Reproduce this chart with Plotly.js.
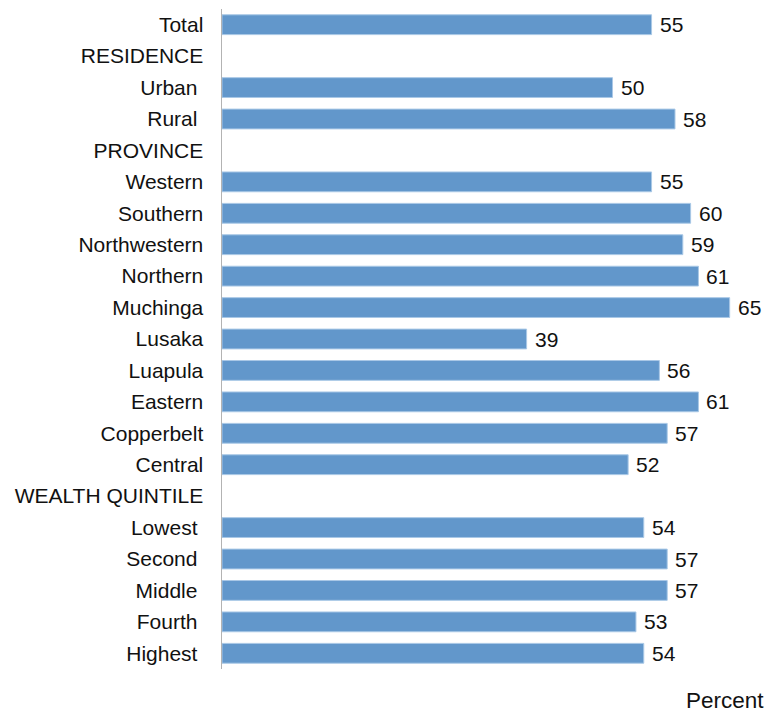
<!DOCTYPE html>
<html>
<head>
<meta charset="utf-8">
<script src="https://cdn.plot.ly/plotly-3.0.1.min.js"></script>
<style>html,body{margin:0;padding:0;background:#fff;}#chart{width:771px;height:713px;}</style>
</head>
<body>
<div id="chart"></div>
<script>
// Categories (top to bottom); null = section header row without a bar
const categories = ["Total","RESIDENCE","Urban","Rural","PROVINCE","Western","Southern","Northwestern","Northern","Muchinga","Lusaka","Luapula","Eastern","Copperbelt","Central","WEALTH QUINTILE","Lowest","Second","Middle","Fourth","Highest"];
const tickLabels = ["Total","RESIDENCE","Urban\u00A0","Rural\u00A0","PROVINCE","Western","Southern","Northwestern","Northern","Muchinga","Lusaka","Luapula","Eastern","Copperbelt","Central","WEALTH QUINTILE","Lowest\u00A0","Second\u00A0","Middle\u00A0","Fourth\u00A0","Highest\u00A0"];
const values = [55,null,50,58,null,55,60,59,61,65,39,56,61,57,52,null,54,57,57,53,54];
const axisTitle = "Percent";

const FONT = '"Liberation Sans", Arial, sans-serif';
const barColor = '#6297CB';

const trace = {
  type: 'bar',
  orientation: 'h',
  y: categories,
  x: values,
  width: 0.63,
  marker: {color: barColor, line: {color: '#a9c8e6', width: 1}},
  hoverinfo: 'none'
};

const annotations = [];
categories.forEach((c, i) => {
  if (values[i] !== null) {
    annotations.push({
      x: values[i], y: c, xref: 'x', yref: 'y',
      text: String(values[i]), showarrow: false,
      xanchor: 'left', yanchor: 'middle', xshift: 6,
      font: {family: FONT, size: 21, color: '#111'}
    });
  }
});
annotations.push({
  xref: 'paper', yref: 'paper', x: 1.048, y: -0.047,
  xanchor: 'right', yanchor: 'middle',
  text: axisTitle, showarrow: false,
  font: {family: FONT, size: 22.5, color: '#111'}
});

const layout = {
  width: 771, height: 713,
  margin: {l: 222, r: 30, t: 9, b: 44, pad: 0},
  paper_bgcolor: '#fff', plot_bgcolor: '#fff',
  showlegend: false,
  font: {family: FONT, size: 21, color: '#111'},
  xaxis: {
    range: [0, 66.45], showgrid: false, zeroline: false,
    showticklabels: false, ticks: '', showline: false, fixedrange: true
  },
  yaxis: {
    type: 'category', autorange: false, range: [20.5, -0.5],
    categoryorder: 'array', categoryarray: categories,
    tickmode: 'array', tickvals: categories, ticktext: tickLabels,
    showgrid: false, zeroline: false,
    showline: true, linecolor: '#b3b3b3', linewidth: 1.5,
    ticks: '', ticklabelstandoff: 13,
    tickfont: {family: FONT, size: 21, color: '#111'}
  },
  annotations: annotations
};

Plotly.newPlot('chart', [trace], layout, {displayModeBar: false, staticPlot: true});
</script>
</body>
</html>
